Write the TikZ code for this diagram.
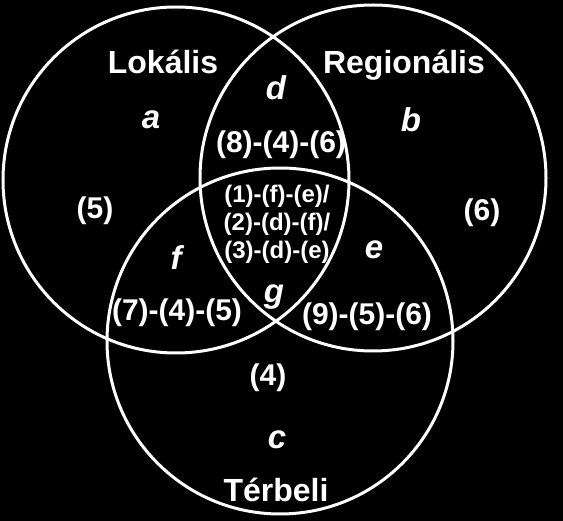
\documentclass[tikz,border=0pt]{standalone}
\usepackage{fontspec}
\setmainfont{Liberation Sans}
\begin{document}
\begin{tikzpicture}[x=1pt,y=-1pt,
  ring/.style={draw=white,line width=3pt,circle,inner sep=0pt,minimum size=346pt},
  big/.style={text=white,font=\fontsize{32}{36}\selectfont\bfseries,inner sep=0pt},
  num/.style={text=white,font=\fontsize{30}{36}\selectfont\bfseries,inner sep=0pt},
  small/.style={text=white,font=\fontsize{24}{28}\selectfont\bfseries,inner sep=0pt,align=center},
  letter/.style={text=white,font=\fontsize{33}{36}\selectfont\bfseries\itshape,inner sep=0pt}]
\fill[black] (0,0) rectangle (563,521);
\useasboundingbox (0,0) rectangle (563,521);
\node[ring] (L) at (176,180) {};
\node[ring] (R) at (373,178) {};
\node[ring] (T) at (280,341) {};
\node[big] (lok) at (163,62) {Lokális};
\node[big] (reg) at (404,65) {Regionális};
\node[big] (ter) at (276,490) {Térbeli};
\node[letter] (la) at (151,120) {a};
\node[letter] (lb) at (411,120) {b};
\node[letter] (lc) at (277,440) {c};
\node[letter] (ld) at (276,88) {d};
\node[letter] (le) at (374,250) {e};
\node[letter] (lf) at (176,258) {f};
\node[letter] (lg) at (274,297) {g};
\node[num] (n846) at (281,145) {(8)-(4)-(6)};
\node[num] (n5) at (95,211) {(5)};
\node[num] (n6) at (482,213) {(6)};
\node[num] (n4) at (268,378) {(4)};
\node[num] (n745) at (177,313) {(7)-(4)-(5)};
\node[num] (n956) at (367,317) {(9)-(5)-(6)};
\node[small] (c1) at (277,196) {(1)-(f)-(e)/};
\node[small] (c2) at (277,224) {(2)-(d)-(f)/};
\node[small] (c3) at (277,252) {(3)-(d)-(e)};
\end{tikzpicture}
\end{document}
